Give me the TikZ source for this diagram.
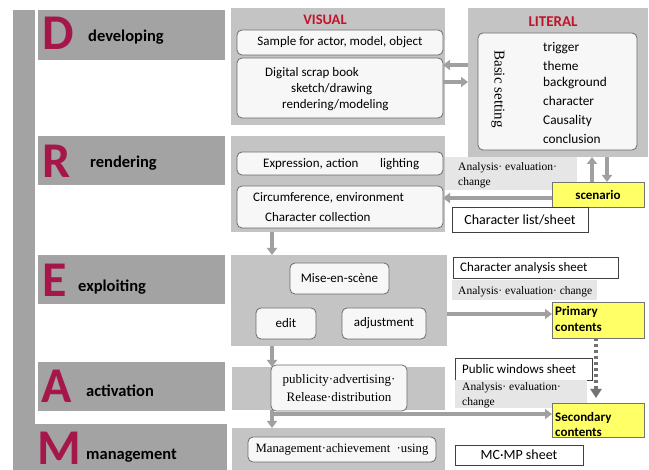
\documentclass[tikz,border=0pt]{standalone}
\usepackage{fontspec}
\setmainfont{Carlito}
\newfontfamily\serifa{Liberation Serif}
\usetikzlibrary{arrows.meta}
\definecolor{rowgray}{HTML}{A3A3A3}
\definecolor{panelgray}{HTML}{C4C4C4}
\definecolor{boxfill}{HTML}{F7F7F7}
\definecolor{boxline}{HTML}{6A6A6A}
\definecolor{lightg}{HTML}{E6E6E6}
\definecolor{arrg}{HTML}{A0A0A0}
\definecolor{letterred}{HTML}{A5174A}
\definecolor{titlered}{HTML}{C0142A}
\definecolor{yel}{HTML}{FFFF66}
\tikzset{
  base/.style={anchor=north west, inner sep=0pt, outer sep=0pt},
  rowbar/.style={base, fill=rowgray},
  panel/.style={base, fill=panelgray},
  rbox/.style={base, fill=boxfill, draw=boxline, line width=0.8pt, rounded corners=5pt, font=\fontsize{13}{15}\selectfont},
  sbox/.style={base, fill=white, draw=black!75, line width=0.7pt, font=\fontsize{13}{15}\selectfont},
  gbox/.style={base, fill=lightg},
  ybox/.style={base, fill=yel, draw=black!55, line width=0.7pt},
  bigletter/.style={anchor=base west, inner sep=0pt, text=letterred, font=\fontsize{50}{50}\selectfont\bfseries},
  rowlabel/.style={anchor=base west, inner sep=0pt, font=\fontsize{16.5}{18}\selectfont\bfseries},
  txt/.style={anchor=base west, inner sep=0pt, font=\fontsize{13}{15}\selectfont},
  ltxt/.style={anchor=base west, inner sep=0pt, font=\fontsize{13.3}{15}\selectfont},
  stxt/.style={anchor=base west, inner sep=0pt, font=\serifa\fontsize{11.5}{13}\selectfont},
  ytxt/.style={anchor=base west, inner sep=0pt, font=\fontsize{13}{15}\selectfont\bfseries},
  arr/.style={draw=arrg, line width=3.5pt, -{Triangle[width=10pt,length=7pt]}},
  dotarr/.style={draw=black!55, line width=3.5pt, dash pattern=on 3.5pt off 2.5pt, -{Triangle[width=11pt,length=9pt]}},
}
\begin{document}
\begin{tikzpicture}[x=1pt,y=-1pt]
\useasboundingbox (0,0) rectangle (649,470);
% left bar and row bars
\node[rowbar, minimum width=22pt, minimum height=460pt] (lbar) at (13,10) {};
\node[rowbar, minimum width=187pt, minimum height=50pt] (rowD) at (38,10) {};
\node[rowbar, minimum width=187pt, minimum height=49pt] (rowR) at (38,136) {};
\node[rowbar, minimum width=187pt, minimum height=49pt] (rowE) at (38,255) {};
\node[rowbar, minimum width=187pt, minimum height=49pt] (rowA) at (38,362) {};
\node[rowbar, minimum width=192pt, minimum height=46pt] (rowM) at (35,424) {};
\node[bigletter] (lD) at (42,50) {D};
\node[bigletter] (lR) at (42,178) {R};
\node[bigletter] (lE) at (42,297) {E};
\node[bigletter] (lA) at (41,403) {A};
\node[bigletter] (lM) at (37,465) {M};
\node[rowlabel] (tD) at (88,42) {developing};
\node[rowlabel] (tR) at (90,168) {rendering};
\node[rowlabel] (tE) at (78,292) {exploiting};
\node[rowlabel] (tA) at (86,397) {activation};
\node[rowlabel] (tM) at (86,460) {management};
% VISUAL panel
\node[panel, minimum width=214pt, minimum height=117pt] (vis) at (231,8) {};
\node[anchor=center, text=titlered, font=\fontsize{14.5}{16}\selectfont\bfseries] (vist) at (325,20) {VISUAL};
\node[rbox, minimum width=206pt, minimum height=25pt] (sample) at (237,30) {Sample for actor, model, object};
\node[rbox, minimum width=206pt, minimum height=60pt] (scrap) at (237,58) {};
\node[txt] (scrap1) at (265,77) {Digital scrap book};
\node[txt] (scrap2) at (291,93) {sketch/drawing};
\node[txt] (scrap3) at (282,109) {rendering/modeling};
% R panel
\node[panel, minimum width=214pt, minimum height=96pt] (rpan) at (231,136) {};
\node[rbox, minimum width=206pt, minimum height=23pt] (expr) at (237,152) {};
\node[txt] (expr1) at (263,168) {Expression, action};
\node[txt] (expr2) at (380,168) {lighting};
\node[rbox, minimum width=206pt, minimum height=42pt] (circ) at (237,186) {};
\node[txt] (circ1) at (253,202) {Circumference, environment};
\node[txt] (circ2) at (265,222) {Character collection};
% E panel
\node[panel, minimum width=216pt, minimum height=91pt] (epan) at (231,255) {};
\node[rbox, minimum width=99pt, minimum height=31pt] (mise) at (290,263) {Mise-en-scène};
\node[rbox, minimum width=60pt, minimum height=31pt] (edit) at (256,308) {edit};
\node[rbox, minimum width=84pt, minimum height=31pt] (adj) at (342,308) {adjustment};
% A panel
\node[panel, minimum width=213pt, minimum height=43pt] (apan) at (232,367) {};
\node[rbox, minimum width=136pt, minimum height=46pt, align=center, font=\serifa\fontsize{13}{18}\selectfont] (pub) at (271,365) {publicity·advertising·\\Release·distribution};
% M panel
\node[panel, minimum width=213pt, minimum height=42pt] (mpan) at (232,428) {};
\node[rbox, minimum width=188pt, minimum height=25pt, font=\serifa\fontsize{12.7}{14}\selectfont] (mng) at (248,437) {Management·achievement~~·using};
% LITERAL panel
\node[panel, minimum width=180pt, minimum height=149pt] (lit) at (468,8) {};
\node[anchor=center, text=titlered, font=\fontsize{15}{17}\selectfont\bfseries] (litt) at (553,22) {LITERAL};
\node[rbox, minimum width=159pt, minimum height=117pt] (basic) at (478,33) {};
\node[anchor=center, rotate=-90, inner sep=0pt, font=\serifa\fontsize{15}{17}\selectfont] (bset) at (498,89) {Basic setting};
\node[ltxt] (li1) at (543,52) {trigger};
\node[ltxt] (li2) at (543,71) {theme};
\node[ltxt] (li3) at (543,87) {background};
\node[ltxt] (li4) at (543,106) {character};
\node[ltxt] (li5) at (543,125) {Causality};
\node[ltxt] (li6) at (543,144) {conclusion};
% right column small boxes
\node[gbox, minimum width=132pt, minimum height=33pt] (an1) at (445,157) {};
\node[stxt] (an1a) at (458,171) {Analysis· evaluation·};
\node[stxt] (an1b) at (458,186) {change};
\node[ybox, minimum width=92pt, minimum height=25pt, font=\fontsize{13}{15}\selectfont\bfseries] (scen) at (552,182) {scenario};
\node[sbox, minimum width=136pt, minimum height=25pt, font=\fontsize{14}{16}\selectfont] (clist) at (452,207) {Character list/sheet};
\node[sbox, minimum width=165pt, minimum height=21pt] (cana) at (453,257) {};
\node[txt] (canat) at (460,272) {Character analysis sheet};
\node[gbox, minimum width=145pt, minimum height=20pt] (an2) at (452,280) {};
\node[stxt] (an2a) at (458,295) {Analysis· evaluation· change};
\node[ybox, minimum width=92pt, minimum height=36pt] (prim) at (552,302) {};
\node[ytxt] (prim1) at (555,316) {Primary};
\node[ytxt] (prim2) at (555,332) {contents};
\node[sbox, minimum width=137pt, minimum height=22pt] (pubw) at (455,358) {};
\node[txt] (pubwt) at (462,374) {Public windows sheet};
\node[gbox, minimum width=132pt, minimum height=28pt] (an3) at (455,380) {};
\node[stxt] (an3a) at (462,391) {Analysis· evaluation·};
\node[stxt] (an3b) at (462,406) {change};
\node[ybox, minimum width=92pt, minimum height=34pt] (sec) at (552,403) {};
\node[ytxt] (sec1) at (555,422) {Secondary};
\node[ytxt] (sec2) at (555,437) {contents};
\node[sbox, minimum width=128pt, minimum height=20pt, font=\fontsize{14}{16}\selectfont] (mcmp) at (455,445) {MC·MP sheet};
% connectors
\coordinate (b1) at (272,414);
\coordinate (dotend) at (596,398);
\draw[arr] (lit.west |- 0,65) -- (scrap.east |- 0,65);
\draw[arr] (scrap.east |- 0,82) -- (lit.west |- 0,82);
\draw[arr] (scen.north -| 592,0) -- (lit.south -| 592,0);
\draw[arr] (lit.south -| 607,0) -- (scen.north -| 607,0);
\draw[arr] (scen.west |- 0,198) -- (circ.east |- 0,198);
\draw[arr] (rpan.south -| 272,0) -- (epan.north -| 272,0);
\draw[arr] (epan.south -| 272,0) -- (apan.north -| 272,0);
\draw[arr] (apan.south -| 272,0) -- (mpan.north -| 272,0);
\draw[arr] (b1) -- (b1 -| sec.west);
\draw[arr] (epan.east |- 0,314) -- (prim.west |- 0,314);
\draw[dotarr] (prim.south -| dotend) -- (dotend);
\end{tikzpicture}
\end{document}
